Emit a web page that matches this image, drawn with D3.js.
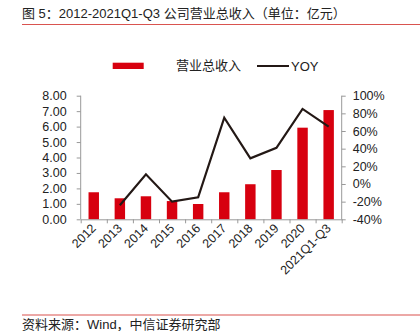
<!DOCTYPE html>
<html><head><meta charset="utf-8">
<script src="https://cdn.jsdelivr.net/npm/d3@7/dist/d3.min.js"></script>
<style>body{margin:0;background:#fff}svg{display:block}text{font-family:"Liberation Sans",Arial,"Noto Sans CJK SC",sans-serif}</style>
</head><body>
<script>
const categories = ["2012","2013","2014","2015","2016","2017","2018","2019","2020","2021Q1-Q3"];
const revenue = [1.75,1.36,1.49,1.18,0.99,1.75,2.27,3.19,5.93,7.07];
const yoy = [null,-24,11,-20,-15,75,29,41,85,65];
const leftTicks = [0,1,2,3,4,5,6,7,8];
const rightTicks = [-40,-20,0,20,40,60,80,100];
const title = "图 5：2012-2021Q1-Q3 公司营业总收入（单位：亿元）";
const source = "资料来源：Wind，中信证券研究部";
const legendLabels = ["营业总收入","YOY"];

const W=420,H=331;
const svg=d3.select("body").append("svg").attr("width",W).attr("height",H);
const font='"Liberation Sans",Arial,"Noto Sans CJK SC",sans-serif';

svg.append("text").attr("x",22).attr("y",18).attr("font-size",13).attr("fill","#222").text(title);
svg.append("line").attr("x1",22).attr("x2",420).attr("y1",24.5).attr("y2",24.5).attr("stroke","#d9534f").attr("stroke-width",1.2);
svg.append("line").attr("x1",22).attr("x2",420).attr("y1",315).attr("y2",315).attr("stroke","#d9534f").attr("stroke-width",1.2);
svg.append("text").attr("x",22).attr("y",328.5).attr("font-size",13).attr("fill","#222").text(source);

const x=d3.scaleBand().domain(categories).range([80.7,341.7]).paddingInner(0.6).paddingOuter(0.3);
const y=d3.scaleLinear().domain([0,8]).range([219.3,95.7]);
const y2=d3.scaleLinear().domain([-40,100]).range([219.3,95.7]);

// bars
svg.append("g").selectAll("rect").data(revenue).join("rect")
  .attr("x",(d,i)=>x(categories[i])).attr("width",x.bandwidth())
  .attr("y",d=>y(d)).attr("height",d=>y(0)-y(d)).attr("fill","#d7000f");

// line
const line=d3.line().defined(d=>d!=null).x((d,i)=>x(categories[i])+x.bandwidth()/2).y(d=>y2(d));
svg.append("path").datum(yoy).attr("d",line).attr("fill","none").attr("stroke","#231815").attr("stroke-width",2.2);

// axes
const axCol="#999";
const gl=svg.append("g").attr("transform","translate(80.7,0)")
  .call(d3.axisLeft(y).tickValues(leftTicks).tickFormat(d3.format(".2f")).tickSize(4).tickPadding(10));
const gr=svg.append("g").attr("transform","translate(341.7,0)")
  .call(d3.axisRight(y2).tickValues(rightTicks).tickFormat(d=>d+"%").tickSize(4).tickPadding(7));
const xb=d3.scaleLinear().domain([0,10]).range([80.7,341.7]);
const gx=svg.append("g").attr("transform","translate(0,219.3)")
  .call(d3.axisBottom(xb).tickValues(d3.range(0,11)).tickFormat("").tickSize(4).tickSizeOuter(0));
[gl,gr,gx].forEach(g=>{g.selectAll("path,line").attr("stroke",axCol);g.selectAll("text").attr("font-size",12.5).attr("fill","#222").attr("font-family",font);});
gl.select(".domain").attr("d","M0,95.7H0V219.3");
gr.select(".domain").attr("d","M0,95.7H0V219.3");

// x labels
svg.append("g").selectAll("text").data(categories).join("text")
  .attr("transform",d=>`translate(${x(d)+x.bandwidth()/2+3},${229}) rotate(-45)`)
  .attr("text-anchor","end").attr("font-size",12.5).attr("fill","#222").text(d=>d);

// legend
svg.append("rect").attr("x",112.7).attr("y",62.7).attr("width",31).attr("height",6.3).attr("fill","#d7000f");
svg.append("text").attr("x",176).attr("y",70).attr("font-size",13).attr("fill","#222").text(legendLabels[0]);
svg.append("line").attr("x1",257).attr("x2",289).attr("y1",66).attr("y2",66).attr("stroke","#231815").attr("stroke-width",2);
svg.append("text").attr("x",291).attr("y",70.5).attr("font-size",13).attr("fill","#222").text(legendLabels[1]);
</script>
</body></html>
